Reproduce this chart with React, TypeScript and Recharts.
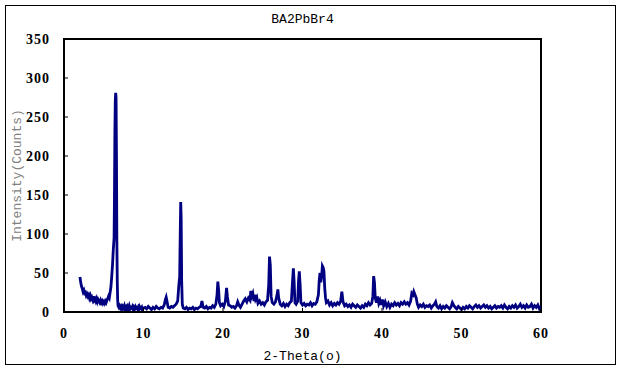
import { LineChart, Line, XAxis, YAxis, ReferenceArea } from 'recharts';

const TITLE = 'BA2PbBr4';
const X_LABEL = '2-Theta(o)';
const Y_LABEL = 'Intensity(Counts)';
const X_TICKS = [0, 10, 20, 30, 40, 50, 60];
const Y_TICKS = [0, 50, 100, 150, 200, 250, 300, 350];

// [2-theta, counts]
const scanLow: [number, number][] = [
  [2.0, 45], [2.05, 42], [2.1, 38], [2.2, 33], [2.3, 30], [2.4, 26], [2.5, 28], [2.6, 24], [2.7, 25],
  [2.8, 21], [2.9, 23], [3.0, 20], [3.1, 22], [3.2, 18], [3.3, 21], [3.4, 17], [3.5, 19], [3.6, 16],
  [3.7, 20], [3.8, 15], [3.9, 17], [4.0, 14], [4.1, 17], [4.2, 13], [4.3, 16], [4.4, 14], [4.5, 12],
  [4.6, 15], [4.7, 12], [4.8, 14], [4.9, 11], [5.0, 13], [5.1, 11], [5.2, 14], [5.3, 12], [5.4, 15],
  [5.5, 17], [5.6, 20], [5.7, 18], [5.8, 25], [5.9, 32], [6.0, 45], [6.1, 60], [6.2, 80], [6.3, 95],
  [6.35, 150], [6.4, 230], [6.45, 270], [6.5, 281], [6.55, 275], [6.6, 200], [6.65, 90], [6.7, 40],
  [6.75, 15], [6.8, 8], [6.9, 6], [7.0, 8], [7.1, 5], [7.2, 7], [7.3, 4], [7.4, 7], [7.5, 5], [7.6, 8],
  [7.7, 4], [7.8, 6], [7.9, 3], [8.0, 7], [8.1, 5], [8.2, 8], [8.3, 4], [8.4, 6], [8.5, 5], [8.6, 7],
  [8.7, 3], [8.8, 6], [8.9, 4], [9.0, 7], [9.1, 5], [9.2, 4], [9.3, 6], [9.4, 3], [9.5, 7], [9.6, 5],
  [9.7, 4], [9.8, 6], [9.9, 3], [10.0, 5],
];

const scanMid: [number, number][] = [
  [10.2, 6], [10.4, 4], [10.6, 7], [10.8, 5], [11.0, 3], [11.2, 6], [11.4, 4], [11.6, 7], [11.8, 5],
  [12.0, 4], [12.2, 6], [12.4, 5], [12.6, 9], [12.75, 16], [12.85, 19], [12.95, 14], [13.1, 6], [13.3, 5],
  [13.5, 7], [13.7, 6], [13.9, 8], [14.1, 10], [14.3, 14], [14.45, 35], [14.55, 45], [14.62, 100],
  [14.68, 141], [14.74, 120], [14.8, 40], [14.88, 10], [15.0, 5], [15.2, 4], [15.4, 6], [15.6, 3],
  [15.8, 5], [16.0, 4], [16.2, 6], [16.4, 3], [16.6, 5], [16.8, 4], [17.0, 6], [17.2, 7], [17.35, 14],
  [17.5, 6], [17.7, 5], [17.9, 7], [18.1, 4], [18.3, 6], [18.5, 5], [18.7, 8], [18.9, 6], [19.1, 10],
  [19.25, 22], [19.35, 39], [19.45, 28], [19.55, 12], [19.7, 8], [19.9, 10], [20.1, 7], [20.3, 14],
  [20.45, 31], [20.55, 20], [20.7, 9], [20.9, 8], [21.1, 6], [21.3, 7], [21.5, 5], [21.7, 8], [21.85, 13],
  [22.0, 9], [22.2, 6], [22.4, 10], [22.6, 14], [22.8, 17], [23.0, 13], [23.2, 18], [23.4, 15], [23.5, 27],
  [23.6, 20], [23.75, 24], [23.9, 14], [24.0, 22], [24.1, 16], [24.25, 19], [24.4, 11], [24.6, 14],
  [24.8, 10], [25.0, 12],
];

const scanPeaks: [number, number][] = [
  [25.2, 9], [25.4, 13], [25.6, 15], [25.75, 35], [25.85, 71], [25.95, 60], [26.05, 20], [26.2, 12],
  [26.4, 10], [26.6, 13], [26.8, 22], [26.9, 29], [27.0, 18], [27.2, 10], [27.4, 8], [27.6, 11], [27.8, 7],
  [28.0, 10], [28.2, 8], [28.4, 12], [28.6, 14], [28.75, 40], [28.85, 56], [28.95, 38], [29.05, 12],
  [29.2, 10], [29.4, 14], [29.5, 40], [29.6, 52], [29.7, 35], [29.8, 12], [30.0, 9], [30.2, 11], [30.4, 8],
  [30.6, 10], [30.8, 9], [31.0, 12], [31.2, 8], [31.4, 11], [31.6, 10], [31.8, 13], [32.0, 22], [32.1, 40],
  [32.2, 50], [32.3, 38], [32.4, 45], [32.5, 59], [32.6, 57], [32.7, 52], [32.8, 30], [32.9, 18],
  [33.0, 12], [33.2, 14], [33.4, 9], [33.6, 12], [33.8, 8], [34.0, 11], [34.2, 9], [34.4, 12], [34.6, 10],
  [34.8, 14], [34.95, 26], [35.1, 13], [35.3, 8], [35.5, 10], [35.7, 7], [35.9, 9], [36.1, 6], [36.3, 10],
  [36.5, 8], [36.7, 6], [36.9, 9], [37.1, 7], [37.3, 5], [37.5, 8], [37.7, 6], [37.9, 10], [38.1, 8],
  [38.3, 12], [38.5, 9], [38.7, 11], [38.85, 20], [38.95, 46], [39.05, 38], [39.15, 18], [39.3, 12],
  [39.45, 20], [39.6, 11], [39.75, 15], [39.9, 9],
];

const scanHigh: [number, number][] = [
  [40.05, 16], [40.2, 8], [40.4, 13], [40.6, 7], [40.8, 11], [41.0, 6], [41.2, 10], [41.4, 8], [41.6, 12],
  [41.8, 9], [42.0, 11], [42.2, 8], [42.4, 12], [42.6, 10], [42.8, 13], [43.0, 10], [43.2, 12], [43.4, 9],
  [43.6, 14], [43.75, 24], [43.9, 22], [44.0, 26], [44.15, 22], [44.3, 18], [44.45, 10], [44.6, 6],
  [44.8, 9], [45.0, 7], [45.2, 10], [45.4, 6], [45.6, 8], [45.8, 7], [46.0, 9], [46.2, 5], [46.4, 8],
  [46.6, 10], [46.75, 13], [46.9, 7], [47.1, 5], [47.3, 8], [47.5, 4], [47.7, 7], [47.9, 5], [48.1, 8],
  [48.3, 6], [48.5, 4], [48.7, 7], [48.85, 12], [49.0, 9], [49.2, 6], [49.4, 4], [49.6, 7], [49.8, 5],
  [50.0, 3], [50.2, 6], [50.4, 4], [50.6, 7], [50.8, 5], [51.0, 8], [51.2, 6], [51.4, 4], [51.6, 7],
  [51.8, 9], [52.0, 6], [52.2, 8], [52.4, 5], [52.6, 7], [52.8, 9], [53.0, 6], [53.2, 8], [53.4, 5],
  [53.6, 7], [53.8, 4], [54.0, 6], [54.2, 8], [54.4, 5], [54.6, 7], [54.8, 6], [55.0, 8], [55.2, 5],
  [55.4, 9], [55.6, 6], [55.8, 4], [56.0, 7], [56.2, 5], [56.4, 8], [56.6, 6], [56.8, 9], [57.0, 5],
  [57.2, 7], [57.4, 10], [57.6, 6], [57.8, 8], [58.0, 5], [58.2, 9], [58.4, 6], [58.6, 7], [58.8, 10],
  [59.0, 5], [59.2, 8], [59.4, 6], [59.6, 9], [59.8, 4], [60.0, 7],
];

const data = [...scanLow, ...scanMid, ...scanPeaks, ...scanHigh].map(([theta, counts]) => ({ theta, counts }));

const monoFont = '"Liberation Mono", monospace';
const serifFont = '"Liberation Serif", "DejaVu Serif", serif';
const tickStyle = {
  fill: '#000', fontSize: 14, fontWeight: 'bold',
  style: { fontFamily: serifFont, letterSpacing: 1 },
};

export default function App() {
  return (
    <div style={{ position: 'absolute', left: 0, top: 0, width: 624, height: 369, background: '#fff' }}>
      <div style={{ position: 'absolute', left: 5, top: 5, width: 609, height: 358, border: '1px solid #000' }} />
      <div
        style={{
          position: 'absolute', left: 0, top: 12, width: 605, textAlign: 'center',
          fontFamily: monoFont, fontSize: 13, color: '#000',
        }}
      >
        {TITLE}
      </div>
      <LineChart width={624} height={369} data={data} margin={{ top: 39, right: 83, bottom: 9, left: 8 }}>
        <XAxis
          dataKey="theta" type="number" domain={[0, 60]} ticks={X_TICKS} allowDataOverflow
          height={48} tickSize={-4} tickMargin={20} tick={tickStyle}
          axisLine={{ stroke: '#000', strokeWidth: 2 }} tickLine={{ stroke: '#000' }}
          label={{ value: X_LABEL, position: 'insideBottom', offset: 0, fill: '#000', fontSize: 13, fontFamily: monoFont }}
        />
        <YAxis
          type="number" domain={[0, 350]} ticks={Y_TICKS} allowDataOverflow
          width={56} tickSize={-4} tickMargin={18} tick={tickStyle}
          axisLine={{ stroke: '#000', strokeWidth: 2 }} tickLine={{ stroke: '#000' }}
          label={{
            value: Y_LABEL, angle: -90, position: 'insideLeft', offset: 8, fill: '#808080',
            fontSize: 13, fontFamily: monoFont, style: { textAnchor: 'middle' },
          }}
        />
        <ReferenceArea x1={0} x2={60} y1={0} y2={350} fill="none" stroke="#000" strokeWidth={2} fillOpacity={0} />
        <Line
          type="linear" dataKey="counts" stroke="#000080" strokeWidth={2.8} dot={false}
          isAnimationActive={false}
        />
      </LineChart>
    </div>
  );
}
